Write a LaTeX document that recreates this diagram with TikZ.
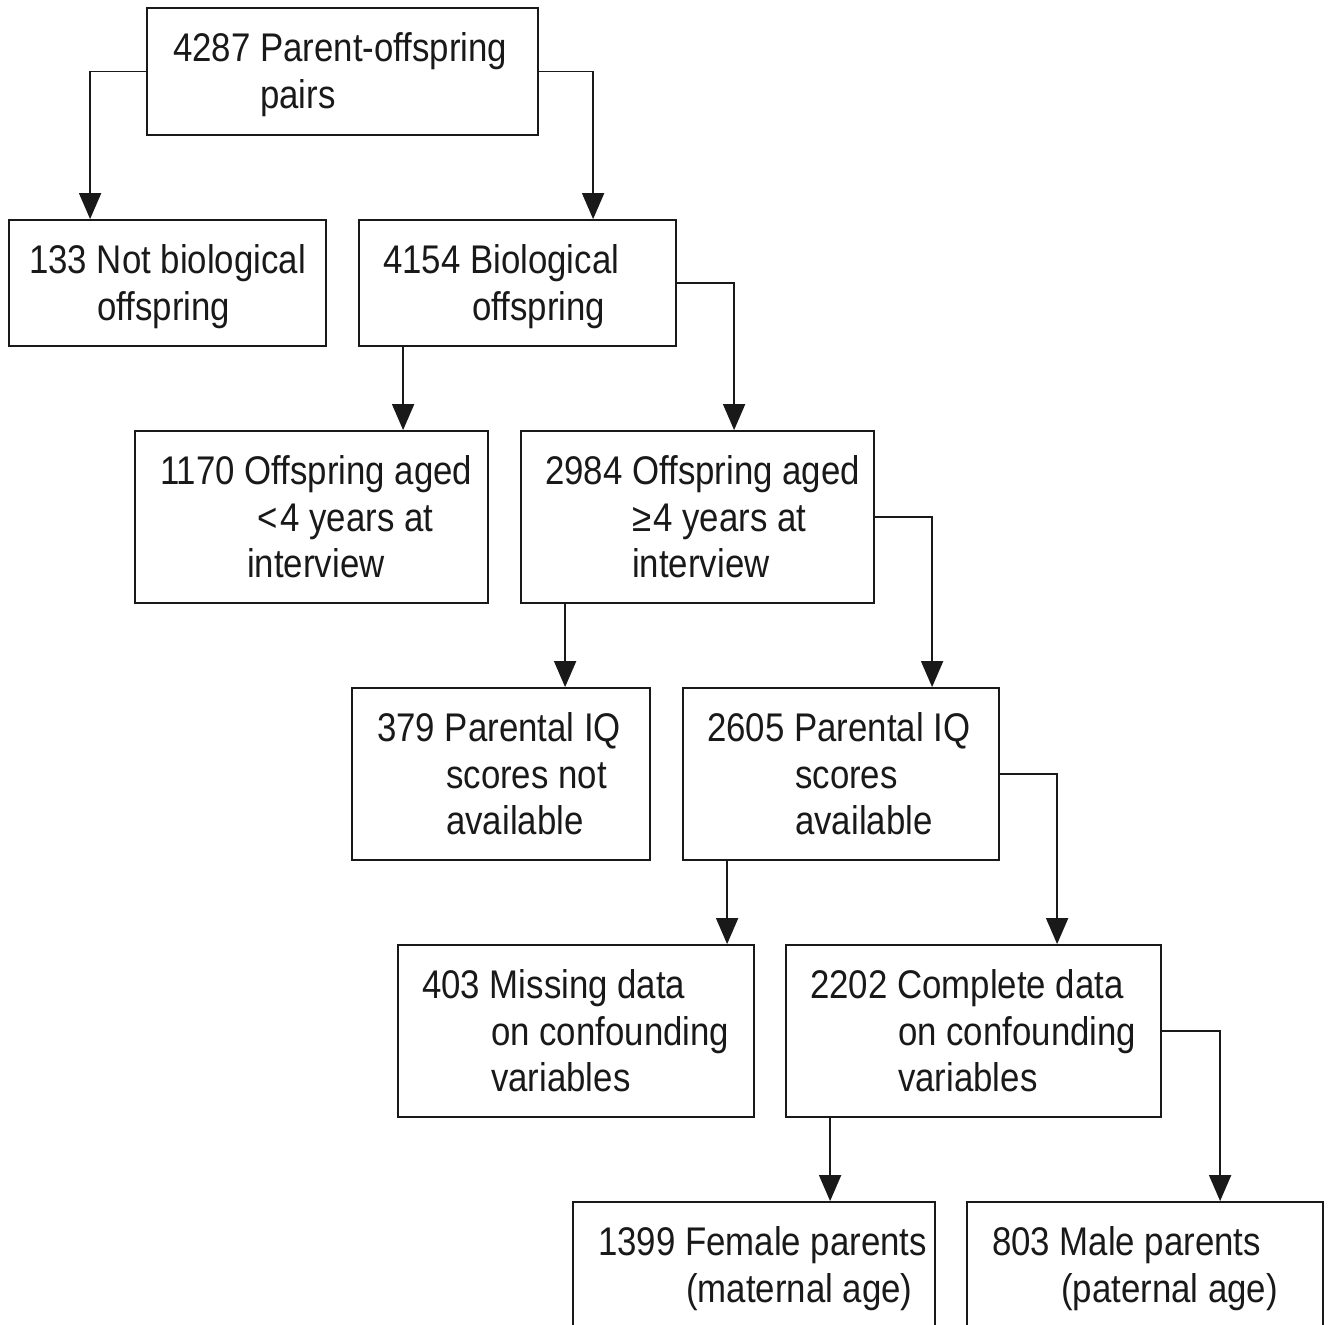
\documentclass[tikz,border=0pt]{standalone}
\usepackage{fontspec}
\setmainfont{Liberation Sans}[FakeStretch=0.87]
\usetikzlibrary{arrows.meta}
\tikzset{
  box/.style={draw=black!90, line width=1.8pt, rectangle, inner sep=0pt},
  txt/.style={anchor=base west, inner sep=0pt, text=black!90, font=\fontsize{40}{47}\selectfont},
  arr/.style={draw=black!90, line width=1.8pt, -{Triangle[width=22pt,length=26pt]}}
}
\begin{document}
\begin{tikzpicture}[x=1pt,y=-1pt]
\useasboundingbox (0,0) rectangle (1331,1325);
\clip (0,0) rectangle (1331,1325);
% boxes
\node[box, minimum width=391pt, minimum height=127pt] (A) at (342.5,71.5) {};
\node[box, minimum width=317pt, minimum height=126pt] (B) at (167.5,283) {};
\node[box, minimum width=317pt, minimum height=126pt] (C) at (517.5,283) {};
\node[box, minimum width=353pt, minimum height=172pt] (D) at (311.5,517) {};
\node[box, minimum width=353pt, minimum height=172pt] (E) at (697.5,517) {};
\node[box, minimum width=298pt, minimum height=172pt] (F) at (501,774) {};
\node[box, minimum width=316pt, minimum height=172pt] (G) at (841,774) {};
\node[box, minimum width=356pt, minimum height=172pt] (H) at (576,1031) {};
\node[box, minimum width=375pt, minimum height=172pt] (I) at (973.5,1031) {};
\node[box, minimum width=362pt, minimum height=143pt] (J) at (754,1273.5) {};
\node[box, minimum width=356pt, minimum height=143pt] (K) at (1145,1273.5) {};
% texts
\node[txt] (a1) at (173,61.5) {4287 Parent-offspring};
\node[txt] (a2) at (260,108) {pairs};
\node[txt] (b1) at (29,273.5) {133 Not biological};
\node[txt] (b2) at (97,320) {offspring};
\node[txt] (c1) at (383,273.5) {4154 Biological};
\node[txt] (c2) at (472,320) {offspring};
\node[txt] (d1) at (160,484.5) {1170 Offspring aged};
\node[txt] (d2) at (257,531) {<\kern3pt 4 years at};
\node[txt] (d3) at (247,577.5) {interview};
\node[txt] (e1) at (545,484.5) {2984 Offspring aged};
\node[txt] (e2) at (632,531) {≥\kern2pt 4 years at};
\node[txt] (e3) at (632,577.5) {interview};
\node[txt] (f1) at (377,741.5) {379 Parental IQ};
\node[txt] (f2) at (446,788) {scores not};
\node[txt] (f3) at (446,834.5) {available};
\node[txt] (g1) at (707,741.5) {2605 Parental IQ};
\node[txt] (g2) at (795,788) {scores};
\node[txt] (g3) at (795,834.5) {available};
\node[txt] (h1) at (422,998.5) {403 Missing data};
\node[txt] (h2) at (491,1045) {on confounding};
\node[txt] (h3) at (491,1091.5) {variables};
\node[txt] (i1) at (810,998.5) {2202 Complete data};
\node[txt] (i2) at (898,1045) {on confounding};
\node[txt] (i3) at (898,1091.5) {variables};
\node[txt] (j1) at (598,1255.5) {1399 Female parents};
\node[txt] (j2) at (686,1302) {(maternal age)};
\node[txt] (k1) at (992,1255.5) {803 Male parents};
\node[txt] (k2) at (1061,1302) {(paternal age)};
% connectors
\draw[arr] (A.west) -| ([xshift=82pt]B.north west);
\draw[arr] (A.east) -| ([xshift=235pt]C.north west);
\draw[arr] ([xshift=45pt]C.south west) -- ([xshift=45pt]C.south west |- D.north);
\draw[arr] (C.east) -| ([xshift=214pt]E.north west);
\draw[arr] ([xshift=45pt]E.south west) -- ([xshift=45pt]E.south west |- F.north);
\draw[arr] (E.east) -| ([xshift=250pt]G.north west);
\draw[arr] ([xshift=45pt]G.south west) -- ([xshift=45pt]G.south west |- H.north);
\draw[arr] (G.east) -| ([xshift=272pt]I.north west);
\draw[arr] ([xshift=45pt]I.south west) -- ([xshift=45pt]I.south west |- J.north);
\draw[arr] (I.east) -| ([xshift=254pt]K.north west);
\end{tikzpicture}
\end{document}
